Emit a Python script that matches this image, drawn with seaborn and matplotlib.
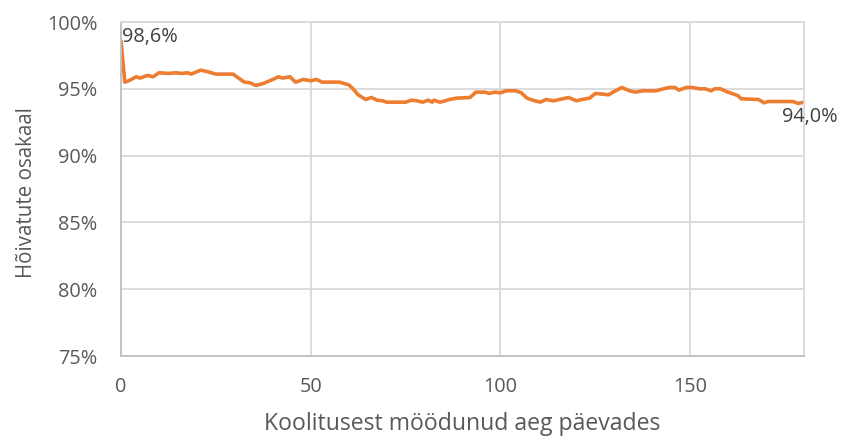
import matplotlib
matplotlib.use("Agg")
import matplotlib.pyplot as plt
import seaborn as sns
import pandas as pd
from matplotlib.ticker import FuncFormatter

# Share of employed people by days elapsed since training (breakpoints of the curve)
days = [0, 1, 2, 4, 5, 7, 8.5, 10, 12.5, 14.5, 16, 17.5, 18.5, 21, 22.5, 25,
        27.5, 29.5, 30.5, 32.5, 34, 35.5, 37.5, 40, 41.5, 42.5, 44.5, 46, 48,
        50, 51.5, 53, 57.5, 60, 61, 62.5, 64.5, 66, 67.5, 69, 70, 75, 76.5,
        78, 79.5, 81, 82, 82.5, 84, 85.5, 86.5, 88.5, 92, 93.5, 96, 97, 98.5,
        100, 101.5, 104, 105.5, 107, 108.5, 110.5, 112, 114, 115.5, 118, 120,
        121.5, 123.5, 125, 127, 128.5, 130, 132, 134, 135.5, 137.5, 141, 143,
        144.5, 146, 147, 149, 150.5, 152.5, 154, 155.5, 156.5, 158, 159.5,
        161, 162.5, 163.5, 168, 169.5, 170.5, 177, 178.5, 180]
share = [98.6, 95.5, 95.6, 95.9, 95.8, 96.0, 95.9, 96.2, 96.15, 96.2, 96.15,
         96.2, 96.1, 96.4, 96.3, 96.1, 96.1, 96.1, 95.9, 95.5, 95.45, 95.25,
         95.4, 95.7, 95.9, 95.8, 95.9, 95.5, 95.7, 95.6, 95.7, 95.5, 95.5,
         95.3, 95.05, 94.55, 94.2, 94.35, 94.15, 94.1, 94.0, 94.0, 94.15,
         94.1, 94.0, 94.15, 94.0, 94.15, 94.0, 94.1, 94.2, 94.3, 94.35, 94.75,
         94.75, 94.65, 94.75, 94.7, 94.85, 94.85, 94.7, 94.3, 94.15, 94.0,
         94.2, 94.1, 94.2, 94.35, 94.1, 94.2, 94.3, 94.65, 94.6, 94.55, 94.8,
         95.1, 94.85, 94.75, 94.85, 94.85, 95.0, 95.1, 95.1, 94.9, 95.1, 95.1,
         95.0, 95.0, 94.85, 95.0, 95.0, 94.8, 94.65, 94.5, 94.25, 94.2, 93.95,
         94.05, 94.05, 93.9, 94.0]

x_ticks = [0, 50, 100, 150]
y_ticks = [75, 80, 85, 90, 95, 100]

sns.set_theme(style="whitegrid")
plt.rcParams["font.family"] = ["Open Sans", "DejaVu Sans"]

df = pd.DataFrame({"paev": days, "osakaal": share})

fig = plt.figure(figsize=(8.41, 4.38), dpi=100)
ax = fig.add_axes([121 / 841, 1 - 356 / 438, (804 - 121) / 841, (356 - 22) / 438])

line_color = "#ED7D31"
sns.lineplot(data=df, x="paev", y="osakaal", ax=ax, color=line_color,
             linewidth=2.6, solid_joinstyle="round", solid_capstyle="round")

ax.set_xlim(0, 180)
ax.set_ylim(75, 100)
ax.set_xticks(x_ticks)
ax.set_yticks(y_ticks)
ax.yaxis.set_major_formatter(FuncFormatter(lambda v, _: f"{v:.0f}%"))

grid_color = "#D9D9D9"
ax.grid(True, color=grid_color, linewidth=1.3)
ax.set_axisbelow(True)
for side, sp in ax.spines.items():
    sp.set_visible(True)
    sp.set_color(grid_color)
    sp.set_linewidth(1.3)
ax.spines["left"].set_color("#BFBFBF")
ax.spines["bottom"].set_color("#BFBFBF")

text_color = "#595959"
ax.tick_params(axis="both", length=0, labelsize=14.3, labelcolor=text_color)
ax.tick_params(axis="y", pad=17)
ax.tick_params(axis="x", pad=15)

ax.set_xlabel("Koolitusest möödunud aeg päevades", fontsize=16.6,
              color=text_color, labelpad=11)
ax.set_ylabel("Hõivatute osakaal", fontsize=14.8, color=text_color)
ax.yaxis.set_label_coords(-0.123, 0.49)

label_color = "#404040"
ax.annotate(f"{share[0]:.1f}%".replace(".", ","), xy=(days[0], share[0]),
            xytext=(1, 2.5), textcoords="offset points", ha="left", va="center",
            fontsize=14.3, color=label_color, annotation_clip=False)
ax.annotate(f"{share[-1]:.1f}%".replace(".", ","), xy=(days[-1], share[-1]),
            xytext=(4, -11), textcoords="offset points", ha="center", va="center",
            fontsize=14.3, color=label_color, annotation_clip=False)

fig.savefig("out.png", dpi=100)
